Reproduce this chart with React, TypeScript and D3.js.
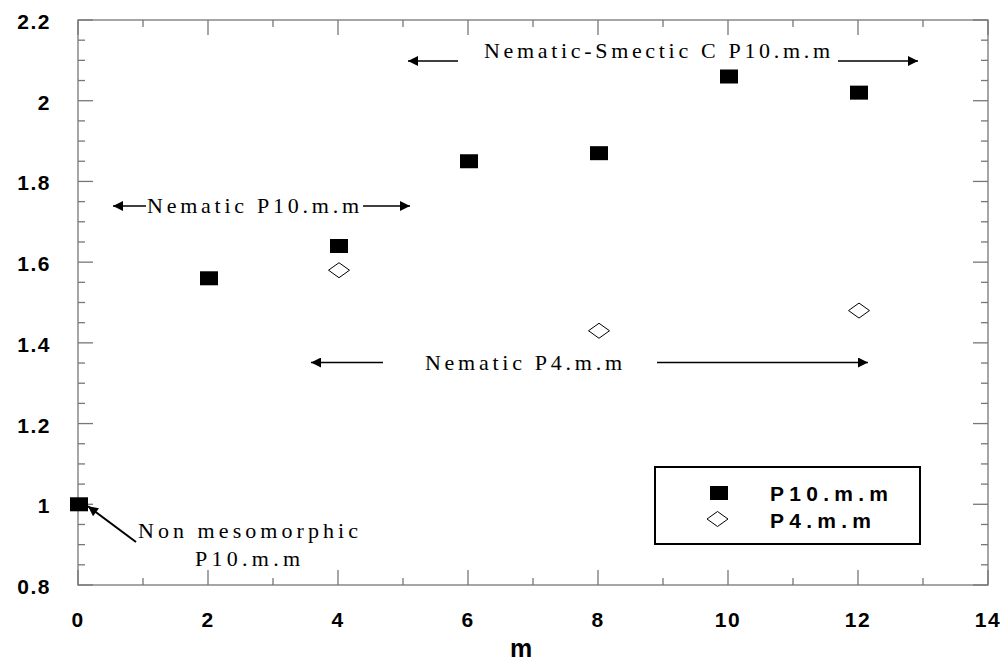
import React, { useRef, useEffect } from 'react';
import * as d3 from 'd3';

// P10.m.m series (filled squares)
const p10M = [0, 2, 4, 6, 8, 10, 12];
const p10Val = [1.0, 1.56, 1.64, 1.85, 1.87, 2.06, 2.02];
// P4.m.m series (open diamonds)
const p4M = [4, 8, 12];
const p4Val = [1.58, 1.43, 1.48];

const xTicks = [0, 2, 4, 6, 8, 10, 12, 14];
const yTicks = [0.8, 1, 1.2, 1.4, 1.6, 1.8, 2, 2.2];
const legendLabels = ['P10.m.m', 'P4.m.m'];

const App = () => {
  const ref = useRef<SVGSVGElement>(null);

  useEffect(() => {
    const svg = d3.select(ref.current).attr('width', 1001).attr('height', 664);
    svg.selectAll('*').remove();

    const left = 78, right = 988, top = 20, bottom = 585;
    const x = d3.scaleLinear().domain([0, 14]).range([left, right]);
    const y = d3.scaleLinear().domain([0.8, 2.2]).range([bottom, top]);
    const axisColor = '#777';

    // arrowhead marker
    svg.append('defs').append('marker')
      .attr('id', 'arr')
      .attr('viewBox', '0 0 10 10')
      .attr('refX', 10).attr('refY', 5)
      .attr('markerWidth', 14).attr('markerHeight', 10)
      .attr('markerUnits', 'userSpaceOnUse')
      .attr('orient', 'auto')
      .append('path').attr('d', 'M0,0 L10,5 L0,10 Z').attr('fill', '#000');

    // frame
    svg.append('rect')
      .attr('x', left).attr('y', top)
      .attr('width', right - left).attr('height', bottom - top)
      .attr('fill', 'none').attr('stroke', axisColor).attr('stroke-width', 1.3);

    // x ticks (inward on top and bottom), minor every 1
    d3.range(0, 15, 1).forEach(v => {
      const len = v % 2 === 0 ? 15 : 7;
      svg.append('line').attr('x1', x(v)).attr('x2', x(v)).attr('y1', bottom).attr('y2', bottom - len)
        .attr('stroke', axisColor).attr('stroke-width', 1.3);
      svg.append('line').attr('x1', x(v)).attr('x2', x(v)).attr('y1', top).attr('y2', top + len)
        .attr('stroke', axisColor).attr('stroke-width', 1.3);
    });
    // y ticks, minor every 0.05
    d3.range(0, 29).forEach(i => {
      const v = 0.8 + i * 0.05;
      const len = i % 4 === 0 ? 15 : 7;
      svg.append('line').attr('x1', left).attr('x2', left + len).attr('y1', y(v)).attr('y2', y(v))
        .attr('stroke', axisColor).attr('stroke-width', 1.3);
      svg.append('line').attr('x1', right).attr('x2', right - len).attr('y1', y(v)).attr('y2', y(v))
        .attr('stroke', axisColor).attr('stroke-width', 1.3);
    });

    const tickFont = (s: any) => s
      .attr('font-family', '"Liberation Sans", Arial, sans-serif')
      .attr('font-weight', 'bold')
      .attr('font-size', 21)
      .attr('letter-spacing', 1.5)
      .attr('fill', '#000');

    svg.selectAll('.xt').data(xTicks).enter().append('text')
      .attr('x', d => x(d)).attr('y', 627)
      .attr('text-anchor', 'middle')
      .text(d => String(d))
      .call(tickFont);

    svg.selectAll('.yt').data(yTicks).enter().append('text')
      .attr('x', 51).attr('y', d => y(d) + 9)
      .attr('text-anchor', 'end')
      .text(d => String(d))
      .call(tickFont);

    svg.append('text').attr('x', 521).attr('y', 657).attr('text-anchor', 'middle')
      .text('m').call(tickFont).attr('font-size', 25).attr('letter-spacing', 0);

    // annotations
    const serif = (s: any) => s
      .attr('font-family', '"Liberation Serif", "Times New Roman", serif')
      .attr('font-size', 22)
      .attr('fill', '#000')
      .attr('lengthAdjust', 'spacing');

    const arrow = (x1: number, y1: number, x2: number, y2: number, w = 1.6) =>
      svg.append('line').attr('x1', x1).attr('y1', y1).attr('x2', x2).attr('y2', y2)
        .attr('stroke', '#000').attr('stroke-width', w).attr('marker-end', 'url(#arr)');

    const anno = (t: string, x0: number, yb: number, len: number) =>
      svg.append('text').attr('x', x0).attr('y', yb).attr('textLength', len).text(t).call(serif);

    anno('Nematic-Smectic C P10.m.m', 484, 58, 346);
    arrow(458, 61, 408, 61);
    arrow(838, 61, 918, 61);

    anno('Nematic P10.m.m', 147, 213, 212);
    arrow(146, 206, 113, 206);
    arrow(363, 206, 410, 206);

    anno('Nematic P4.m.m', 425, 370, 197);
    arrow(383, 362.5, 311, 362.5);
    arrow(657, 362.5, 868, 362.5);

    anno('Non mesomorphic', 138, 538, 220);
    anno('P10.m.m', 195, 566, 105);
    arrow(136, 542, x(0) + 10, y(1) + 2, 2);

    // P10.m.m squares
    const sqW = 18, sqH = 14;
    svg.selectAll('.sq').data(p10M.map((m, i) => ({ m, v: p10Val[i] }))).enter().append('rect')
      .attr('x', d => x(d.m) - sqW / 2 + 1).attr('y', d => y(d.v) - sqH / 2)
      .attr('width', sqW).attr('height', sqH)
      .attr('fill', '#000');

    // P4.m.m diamonds
    const diamond = (cx: number, cy: number) =>
      `M${cx - 10.5},${cy} L${cx},${cy - 7.5} L${cx + 10.5},${cy} L${cx},${cy + 7.5} Z`;
    svg.selectAll('.dm').data(p4M.map((m, i) => ({ m, v: p4Val[i] }))).enter().append('path')
      .attr('d', d => diamond(x(d.m) + 1, y(d.v)))
      .attr('fill', '#fff').attr('stroke', '#000').attr('stroke-width', 1);

    // legend
    svg.append('rect').attr('x', 655).attr('y', 467).attr('width', 265).attr('height', 77)
      .attr('fill', '#fff').attr('stroke', '#000').attr('stroke-width', 2);
    svg.append('rect').attr('x', 710).attr('y', 486).attr('width', 18).attr('height', 14).attr('fill', '#000');
    svg.append('path').attr('d', diamond(717.5, 519)).attr('fill', '#fff').attr('stroke', '#000').attr('stroke-width', 1);
    const legendLen = [118, 101];
    legendLabels.forEach((l, i) => {
      svg.append('text').attr('x', 770).attr('y', 501 + i * 27).text(l).call(tickFont)
        .attr('font-size', 21).attr('letter-spacing', 0)
        .attr('textLength', legendLen[i]).attr('lengthAdjust', 'spacing');
    });
  }, []);

  return <svg ref={ref} style={{ display: 'block', position: 'absolute', left: 0, top: 0 }}></svg>;
};

export default App;
